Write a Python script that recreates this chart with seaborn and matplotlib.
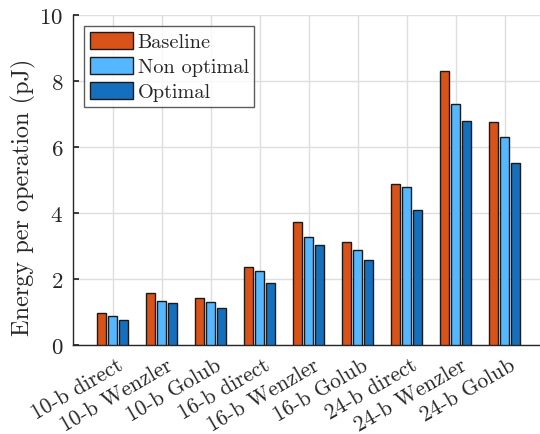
import matplotlib
matplotlib.use("Agg")
import matplotlib.pyplot as plt
import matplotlib.transforms as mtransforms
import seaborn as sns
import pandas as pd

categories = ["10-b direct", "10-b Wenzler", "10-b Golub", "16-b direct", "16-b Wenzler",
              "16-b Golub", "24-b direct", "24-b Wenzler", "24-b Golub"]
baseline = [0.97, 1.58, 1.41, 2.36, 3.72, 3.11, 4.88, 8.29, 6.75]
non_optimal = [0.89, 1.34, 1.31, 2.23, 3.26, 2.88, 4.78, 7.30, 6.29]
optimal = [0.75, 1.28, 1.11, 1.88, 3.04, 2.58, 4.10, 6.78, 5.52]
series_names = ["Baseline", "Non optimal", "Optimal"]
colors = ["#D95319", "#55B7FF", "#1470BE"]

rows = []
for name, vals in zip(series_names, [baseline, non_optimal, optimal]):
    for c, v in zip(categories, vals):
        rows.append({"cat": c, "series": name, "value": v})
df = pd.DataFrame(rows)

sns.set_theme(style="white")
plt.rcParams["font.family"] = ["cmr10", "DejaVu Sans"]
plt.rcParams["mathtext.fontset"] = "cm"
plt.rcParams["axes.formatter.use_mathtext"] = True

fig = plt.figure(figsize=(5.4, 4.35), dpi=100)
ax = fig.add_axes([73 / 540, 1 - 346 / 435, 1 - 73 / 540, (346 - 16) / 435])

sns.barplot(data=df, x="cat", y="value", hue="series", order=categories,
            hue_order=series_names, palette=colors, saturation=1, width=0.67, gap=0.18,
            edgecolor="#1a1a1a", linewidth=1.0, ax=ax, zorder=3)

ax.set_xlim(-0.81, 8.72)
ax.set_ylim(0, 10)
ax.set_yticks([0, 2, 4, 6, 8, 10])
ax.grid(True, color="#dedede", linewidth=1.0, zorder=0)
ax.set_axisbelow(True)
for s in ["top", "right"]:
    ax.spines[s].set_visible(False)
for s in ["left", "bottom"]:
    ax.spines[s].set_color("#262626")
    ax.spines[s].set_linewidth(1.0)
ax.tick_params(axis="y", direction="in", length=4, labelsize=16.5, color="#262626", pad=7, left=True)
ax.tick_params(axis="x", length=0, labelsize=15.5, pad=7)
ax.set_xticks(range(len(categories)))
ax.set_xticklabels(categories, rotation=30, ha="right", va="top", rotation_mode="anchor")
offset = mtransforms.ScaledTranslation(4 / 100, 0, fig.dpi_scale_trans)
for lab in ax.get_xticklabels():
    lab.set_transform(lab.get_transform() + offset)
ax.set_xlabel("")
ax.set_ylabel("Energy per operation (pJ)", fontsize=17.5)
ax.yaxis.set_label_coords(-0.079, 0.452)

leg = ax.legend(loc="upper left", bbox_to_anchor=(0.024, 0.966), fontsize=14.6,
                frameon=True, fancybox=False, edgecolor="#333333",
                handlelength=2.15, handleheight=0.9, handletextpad=0.2,
                labelspacing=0.27, borderpad=0.28, borderaxespad=0.0)
leg.get_frame().set_linewidth(1.0)

fig.savefig("out.png", dpi=100)
